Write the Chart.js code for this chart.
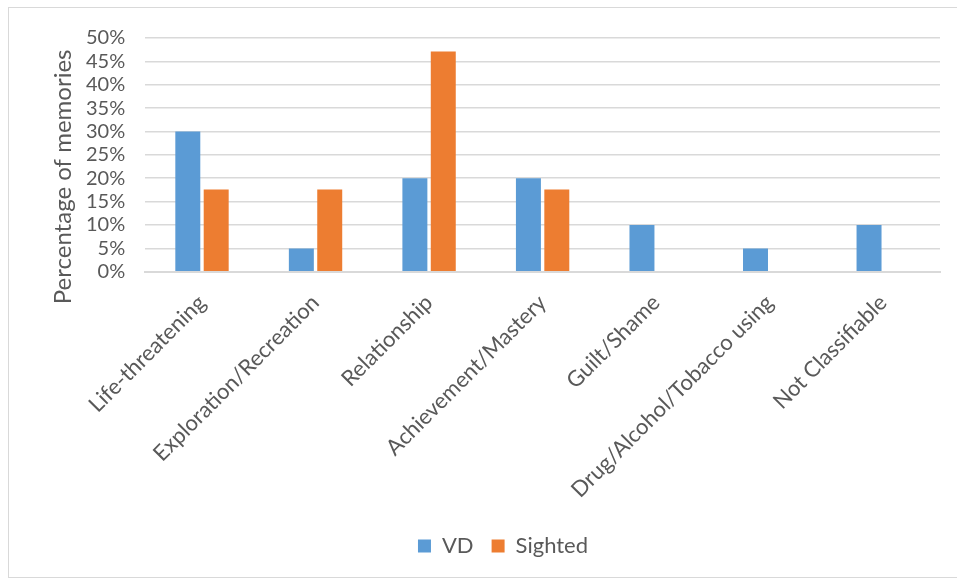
<!DOCTYPE html>
<html lang="en">
<head>
  <meta charset="UTF-8">
  <title>Memory categories</title>
  <script src="https://cdn.jsdelivr.net/npm/chart.js"></script>
  <style>
    body, html {
      margin: 0;
      padding: 0;
      overflow: hidden;
      background: #ffffff;
    }
    #wrap {
      width: 957px;
      height: 579px;
    }
  </style>
</head>
<body>
  <div id="wrap"><canvas id="memChart"></canvas></div>

  <script>
    // Categories and percentages per group
    const categories = [
      'Life-threatening',
      'Exploration/Recreation',
      'Relationship',
      'Achievement/Mastery',
      'Guilt/Shame',
      'Drug/Alcohol/Tobacco using',
      'Not Classifiable'
    ];
    const vdValues = [30, 5, 20, 20, 10, 5, 10];
    const sightedValues = [17.6, 17.6, 47.1, 17.6, 0, 0, 0];
    const yTitle = 'Percentage of memories';

    const textColor = '#595959';
    const gridColor = '#d9d9d9';
    const fontFamily = 'Lato, "Open Sans", sans-serif';

    // Outer frame and rotated axis title, drawn like the office chart
    const framePlugin = {
      id: 'frame',
      afterDraw(chart) {
        const { ctx, chartArea } = chart;
        ctx.save();
        ctx.strokeStyle = gridColor;
        ctx.lineWidth = 1;
        ctx.strokeRect(8.5, 7.5, chart.width + 20, chart.height - 9);

        ctx.fillStyle = textColor;
        ctx.font = '24px ' + fontFamily;
        ctx.textAlign = 'center';
        ctx.textBaseline = 'middle';
        ctx.translate(63, (chartArea.top + chartArea.bottom) / 2 + 22);
        ctx.rotate(-Math.PI / 2);
        ctx.fillText(yTitle, 0, 0);
        ctx.restore();
      }
    };

    const ctx = document.getElementById('memChart').getContext('2d');
    new Chart(ctx, {
      type: 'bar',
      data: {
        labels: categories,
        datasets: [
          {
            label: 'VD',
            data: vdValues,
            backgroundColor: '#5b9bd5',
            categoryPercentage: 0.5,
            barPercentage: 0.88
          },
          {
            label: 'Sighted',
            data: sightedValues,
            backgroundColor: '#ed7d31',
            categoryPercentage: 0.5,
            barPercentage: 0.88
          }
        ]
      },
      options: {
        responsive: true,
        maintainAspectRatio: false,
        animation: false,
        layout: {
          padding: { left: 66, right: 17, top: 38, bottom: 12 }
        },
        scales: {
          x: {
            grid: { display: false },
            border: { color: gridColor, width: 2 },
            // leave some room between the slanted labels and the legend
            afterFit: scale => { scale.height += 4; },
            ticks: {
              color: textColor,
              font: { family: fontFamily, size: 22 },
              minRotation: 45,
              maxRotation: 45,
              autoSkip: false,
              padding: 10
            }
          },
          y: {
            min: 0,
            max: 50,
            border: { display: false },
            grid: { color: gridColor, lineWidth: 1.6, drawTicks: false },
            ticks: {
              stepSize: 5,
              autoSkip: false,
              color: textColor,
              padding: 20,
              font: { family: fontFamily, size: 20 },
              callback: v => v + '%'
            }
          }
        },
        plugins: {
          legend: {
            position: 'bottom',
            labels: {
              color: textColor,
              font: { family: fontFamily, size: 22 },
              boxWidth: 13,
              boxHeight: 13,
              padding: 18
            }
          },
          tooltip: { enabled: false }
        }
      },
      plugins: [framePlugin]
    });
  </script>
</body>
</html>
